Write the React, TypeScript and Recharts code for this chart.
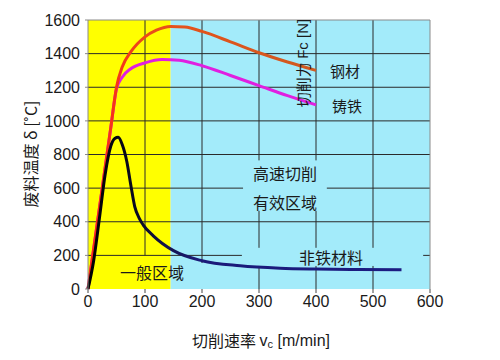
import { LineChart, Line, XAxis, YAxis, ReferenceArea, ReferenceLine } from "recharts";

// cutting speed ticks (m/min) and temperature ticks (°C)
const xTicks = [0, 100, 200, 300, 400, 500, 600];
const yTicks = [0, 200, 400, 600, 800, 1000, 1200, 1400, 1600];

// zone boundary: general zone / high speed zone
const generalZoneEnd = 145;

// steel (钢材)
const steel = [
    { v: 0, t: 0 }, { v: 20, t: 480 }, { v: 40, t: 960 }, { v: 50, t: 1200 },
    { v: 60, t: 1320 }, { v: 75, t: 1410 }, { v: 100, t: 1500 }, { v: 120, t: 1540 },
    { v: 145, t: 1562 }, { v: 170, t: 1558 }, { v: 200, t: 1532 }, { v: 250, t: 1470 },
    { v: 300, t: 1405 }, { v: 350, t: 1350 }, { v: 400, t: 1300 },
];

// cast iron (铸铁)
const castIron = [
    { v: 0, t: 0 }, { v: 20, t: 480 }, { v: 40, t: 960 }, { v: 50, t: 1190 },
    { v: 60, t: 1260 }, { v: 75, t: 1310 }, { v: 100, t: 1345 }, { v: 130, t: 1365 },
    { v: 160, t: 1360 }, { v: 200, t: 1328 }, { v: 250, t: 1270 }, { v: 300, t: 1210 },
    { v: 350, t: 1150 }, { v: 400, t: 1095 },
];

// non-ferrous (非铁材料)
const nonFerrous = [
    { v: 0, t: 0 }, { v: 10, t: 170 }, { v: 20, t: 420 }, { v: 30, t: 680 },
    { v: 40, t: 850 }, { v: 47, t: 895 }, { v: 53, t: 902 }, { v: 60, t: 860 },
    { v: 68, t: 760 }, { v: 75, t: 620 }, { v: 82, t: 490 }, { v: 90, t: 420 },
    { v: 97, t: 380 }, { v: 115, t: 315 }, { v: 150, t: 228 }, { v: 200, t: 168 },
    { v: 267, t: 138 }, { v: 337, t: 124 }, { v: 400, t: 119 }, { v: 475, t: 116 },
    { v: 550, t: 114 },
];

// grid lines, with the gaps left behind the text labels
const hGrid: [number, [number, number][]][] = [
    [200, [[0, 270], [588, 600]]],
    [400, [[0, 600]]],
    [600, [[0, 272], [419, 600]]],
    [800, [[0, 600]]],
    [1000, [[0, 600]]],
    [1200, [[0, 600]]],
    [1400, [[0, 600]]],
];
const vGrid: [number, [number, number][]][] = [
    [100, [[200, 1600]]],
    [200, [[155, 1600]]],
    [300, [[0, 137], [245, 465], [765, 1600]]],
    [400, [[0, 137], [245, 465], [765, 1600]]],
    [500, [[0, 137], [245, 1600]]],
];

const YELLOW = "#ffff00";
const BLUE = "#a3ebfa";
const GRID = "#2a2a2a";
const cjk = "'Noto Sans CJK SC', 'Liberation Sans', sans-serif";
const latin = "'Liberation Sans', Arial, sans-serif";

export default function App() {
    return (
        <div style={{ position: "absolute", left: 0, top: 0, width: 500, height: 360, background: "#fff" }}>
            <LineChart
                width={500}
                height={360}
                margin={{ top: 20, right: 70, bottom: 41, left: 0 }}
            >
                <defs>
                    <linearGradient id="steelStroke" x1="0" y1="0" x2="1" y2="0">
                        <stop offset="0" stopColor="#ff2418" />
                        <stop offset="0.3" stopColor="#e8501a" />
                        <stop offset="1" stopColor="#cf5a20" />
                    </linearGradient>
                    <linearGradient id="nfStroke" x1="0" y1="0" x2="1" y2="0">
                        <stop offset="0" stopColor="#000000" />
                        <stop offset="0.15" stopColor="#0a0a20" />
                        <stop offset="0.35" stopColor="#1a1a78" />
                        <stop offset="1" stopColor="#1c1c82" />
                    </linearGradient>
                </defs>
                <ReferenceArea x1={0} x2={generalZoneEnd} y1={0} y2={1600} fill={YELLOW} fillOpacity={1} stroke="none" />
                <ReferenceArea x1={generalZoneEnd} x2={600} y1={0} y2={1600} fill={BLUE} fillOpacity={1} stroke="none" />
                {hGrid.flatMap(([y, spans]) =>
                    spans.map(([a, b]) => (
                        <ReferenceLine key={`h${y}-${a}`} segment={[{ x: a, y }, { x: b, y }]} stroke={GRID} />
                    ))
                )}
                {vGrid.flatMap(([x, spans]) =>
                    spans.map(([a, b]) => (
                        <ReferenceLine key={`v${x}-${a}`} segment={[{ x, y: a }, { x, y: b }]} stroke={GRID} />
                    ))
                )}
                <ReferenceLine y={1600} stroke="#8a8a8a" />
                <ReferenceLine x={600} stroke="#8a8a8a" />
                <XAxis
                    type="number"
                    dataKey="v"
                    domain={[0, 600]}
                    ticks={xTicks}
                    interval={0}
                    axisLine={false}
                    tickSize={4}
                    tickMargin={3}
                    height={30}
                    stroke="#444"
                    tick={{ fill: "#1a1a1a", fontSize: 16, fontFamily: latin }}
                />
                <YAxis
                    type="number"
                    dataKey="t"
                    domain={[0, 1600]}
                    ticks={yTicks}
                    interval={0}
                    width={88}
                    tickSize={3}
                    tickMargin={5}
                    stroke="#8a8a8a"
                    tick={{ fill: "#1a1a1a", fontSize: 16, fontFamily: latin }}
                />
                <Line data={castIron} dataKey="t" type="monotone" stroke="#e01fe0" strokeWidth={3} dot={false} isAnimationActive={false} />
                <Line data={steel} dataKey="t" type="monotone" stroke="url(#steelStroke)" strokeWidth={3} dot={false} isAnimationActive={false} />
                <Line data={nonFerrous} dataKey="t" type="monotone" stroke="url(#nfStroke)" strokeWidth={3} dot={false} isAnimationActive={false} />
            </LineChart>
            <svg width={500} height={360} style={{ position: "absolute", left: 0, top: 0, pointerEvents: "none" }}>
                <g fill="#1a1a1a" fontFamily={cjk}>
                    <text x={30} y={154} fontSize={16} textAnchor="middle" dominantBaseline="central" transform="rotate(-90 30 154)">
                        废料温度 δ [˚C]
                    </text>
                    <text x={302} y={63} fontSize={15} textAnchor="middle" dominantBaseline="central" transform="rotate(-90 302 63)">
                        切削力 <tspan fontFamily={latin}>Fc [N]</tspan>
                    </text>
                    <text x={330} y={70} fontSize={15} dominantBaseline="central">钢材</text>
                    <text x={332} y={105} fontSize={15} dominantBaseline="central">铸铁</text>
                    <text x={285} y={173} fontSize={16} textAnchor="middle" dominantBaseline="central">高速切削</text>
                    <text x={285} y={202} fontSize={16} textAnchor="middle" dominantBaseline="central">有效区域</text>
                    <text x={331} y={257} fontSize={16} textAnchor="middle" dominantBaseline="central">非铁材料</text>
                    <text x={152} y={272} fontSize={16} textAnchor="middle" dominantBaseline="central">一般区域</text>
                    <text x={261} y={340} fontSize={16} textAnchor="middle" dominantBaseline="central">
                        切削速率 <tspan fontFamily={latin}>v</tspan>
                        <tspan fontFamily={latin} fontSize={11} dy={4}>c</tspan>
                        <tspan fontFamily={latin} dy={-4}> [m/min]</tspan>
                    </text>
                </g>
            </svg>
        </div>
    );
}
